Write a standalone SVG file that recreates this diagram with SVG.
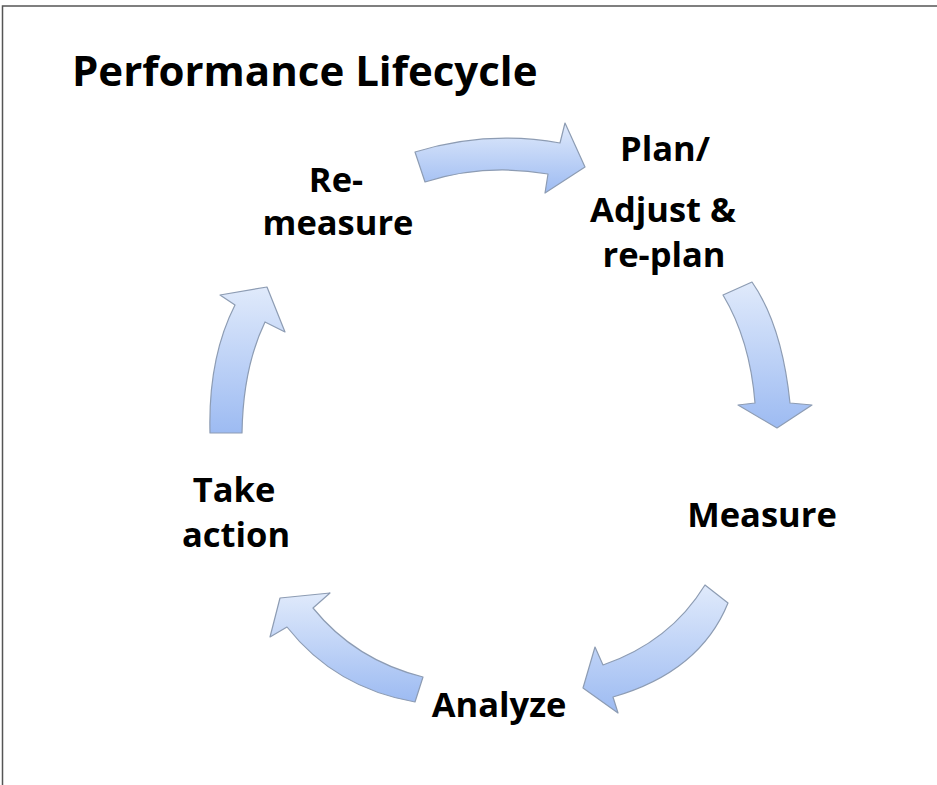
<svg xmlns="http://www.w3.org/2000/svg" width="937" height="785" viewBox="0 0 937 785">
<style>
.title{font-family:"Open Sans","Liberation Sans",sans-serif;font-weight:700;font-size:42px;fill:#000}
.lbl{font-family:"Open Sans","Liberation Sans",sans-serif;font-weight:700;font-size:34.5px;fill:#000;text-anchor:middle}
.arr{fill:url(#g);stroke:#8d9cb3;stroke-width:1.2;stroke-linejoin:round}
</style>
<defs>
<linearGradient id="g" x1="0" y1="0" x2="0" y2="1">
<stop offset="0" stop-color="#e0eafb"/>
<stop offset="1" stop-color="#9dbbf2"/>
</linearGradient>
</defs>
<rect width="937" height="785" fill="#fff"/>
<path d="M2.5,785 V6 H937" fill="none" stroke="#555" stroke-width="1.5"/>
<text class="title" x="72" y="86">Performance Lifecycle</text>
<g id="connectors">
<path class="arr" d="M415,152 Q487,130 560,143 L565,123 L585,167 L545,193 L548,174 Q485,163 425,182 Z"/>
<path class="arr" d="M723,295 L752,282 Q782,325 790,403 L812,405 L777,428 L738,405 L755,403 Q750,340 723,295 Z"/>
<path class="arr" d="M705,585 Q670,642 603,665 L595,647 L583,688 L618,713 L613,697 Q700,672 728,603 Z"/>
<path class="arr" d="M423,677 Q355,660 313,608 L330,593 L280,598 L270,637 L287,627 Q335,688 415,702 Z"/>
<path class="arr" d="M210,433 Q208,358 235,305 L220,295 L267,287 L285,332 L265,322 Q243,368 242,433 Z"/>
</g>
<g id="node-plan"><text class="lbl" x="665" y="161">Plan/</text><text class="lbl" x="663" y="222">Adjust &amp;</text><text class="lbl" x="664" y="267">re-plan</text></g>
<g id="node-measure"><text class="lbl" x="762" y="527">Measure</text></g>
<g id="node-analyze"><text class="lbl" x="499" y="717">Analyze</text></g>
<g id="node-take-action"><text class="lbl" x="234" y="502">Take</text><text class="lbl" x="236" y="547">action</text></g>
<g id="node-remeasure"><text class="lbl" x="336" y="192">Re-</text><text class="lbl" x="338" y="235">measure</text></g>
</svg>
